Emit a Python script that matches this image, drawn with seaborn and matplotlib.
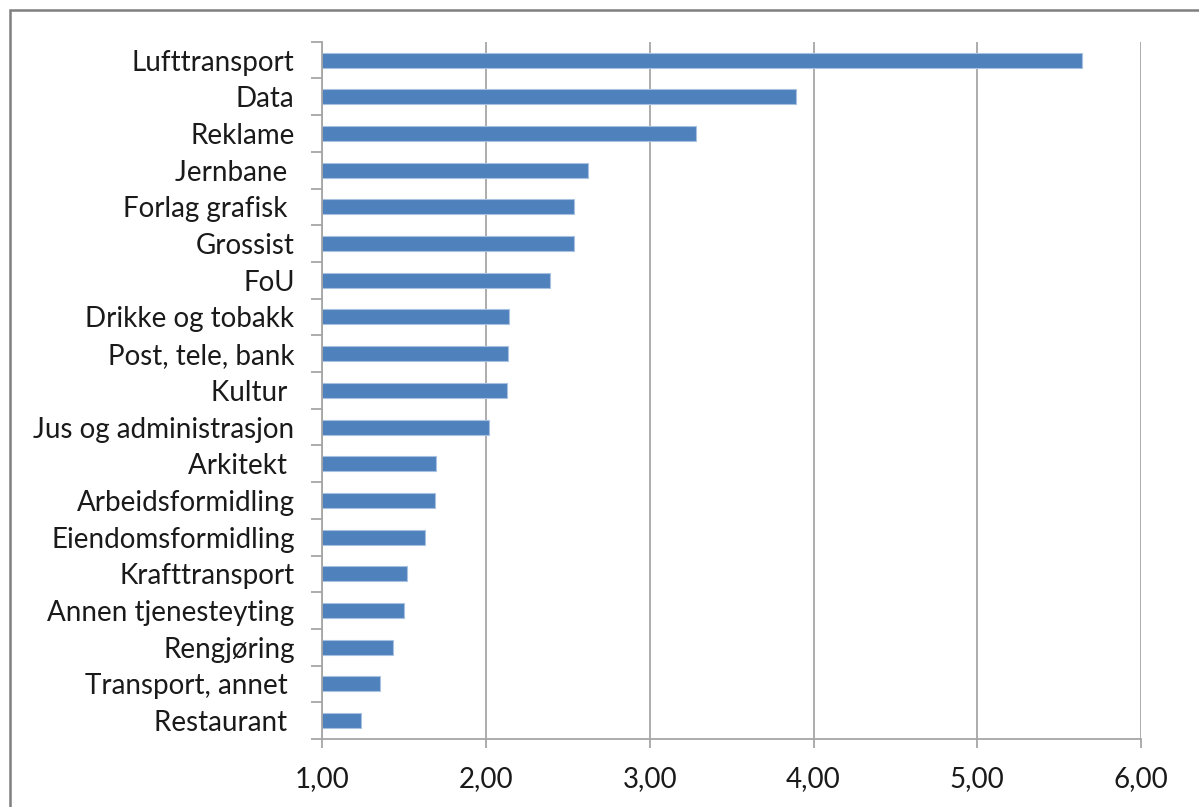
import matplotlib
matplotlib.use("Agg")
import matplotlib.pyplot as plt
import seaborn as sns
import pandas as pd
from matplotlib.patches import Rectangle

# data
categories = [
    "Lufttransport", "Data", "Reklame", "Jernbane ", "Forlag grafisk ",
    "Grossist", "FoU", "Drikke og tobakk", "Post, tele, bank", "Kultur ",
    "Jus og administrasjon", "Arkitekt ", "Arbeidsformidling",
    "Eiendomsformidling", "Krafttransport", "Annen tjenesteyting",
    "Rengjøring", "Transport, annet ", "Restaurant ",
]
values = [5.64, 3.89, 3.28, 2.62, 2.54, 2.535, 2.39, 2.143, 2.134, 2.126,
          2.02, 1.697, 1.689, 1.628, 1.518, 1.502, 1.433, 1.352, 1.236]
x_ticks = [1, 2, 3, 4, 5, 6]
x_tick_labels = ["1,00", "2,00", "3,00", "4,00", "5,00", "6,00"]

df = pd.DataFrame({"kategori": categories, "verdi": values})

sns.set_style("white")
plt.rcParams["font.family"] = ["Lato", "DejaVu Sans"]

fig = plt.figure(figsize=(11.99, 8.07), dpi=100)
ax = fig.add_axes([322.3 / 1199, 1 - 739 / 807, (1141 - 322.3) / 1199, (739 - 41.7) / 807])

sns.barplot(data=df, x="verdi", y="kategori", orient="h", color="#4F81BD",
            saturation=1, width=0.41, edgecolor="#a9c1e0", linewidth=0.8, ax=ax)

ax.set_xlim(1, 6)
ax.set_ylim(len(categories) - 0.5, -0.5)
ax.set_xticks(x_ticks)
ax.set_xticklabels(x_tick_labels)
ax.set_xlabel("")
ax.set_ylabel("")

# vertical gridlines
ax.grid(axis="x", color="#a6a6a6", linewidth=1.3)
ax.grid(axis="y", visible=False)
ax.set_axisbelow(True)

# category tick marks between the bars
ax.set_yticks([i - 0.5 for i in range(len(categories) + 1)], minor=True)
ax.tick_params(axis="y", which="major", length=0, pad=20, labelsize=20, colors="#1a1a1a")
ax.tick_params(axis="y", which="minor", length=8, width=1.3, color="#a6a6a6", left=True)
ax.tick_params(axis="x", which="major", length=6.5, width=1.3, color="#a6a6a6",
               pad=13, labelsize=20, labelcolor="#1a1a1a", bottom=True)

for side in ["top", "right"]:
    ax.spines[side].set_visible(False)
for side in ["left", "bottom"]:
    ax.spines[side].set_color("#a6a6a6")
    ax.spines[side].set_linewidth(1.3)

# chart frame
fig.patches.append(Rectangle((9.5 / 1199, -0.2), 1.2, 1.2 - 9.5 / 807,
                             transform=fig.transFigure, fill=False,
                             edgecolor="#7f7f7f", linewidth=1.8))

fig.savefig("out.png", dpi=100)
